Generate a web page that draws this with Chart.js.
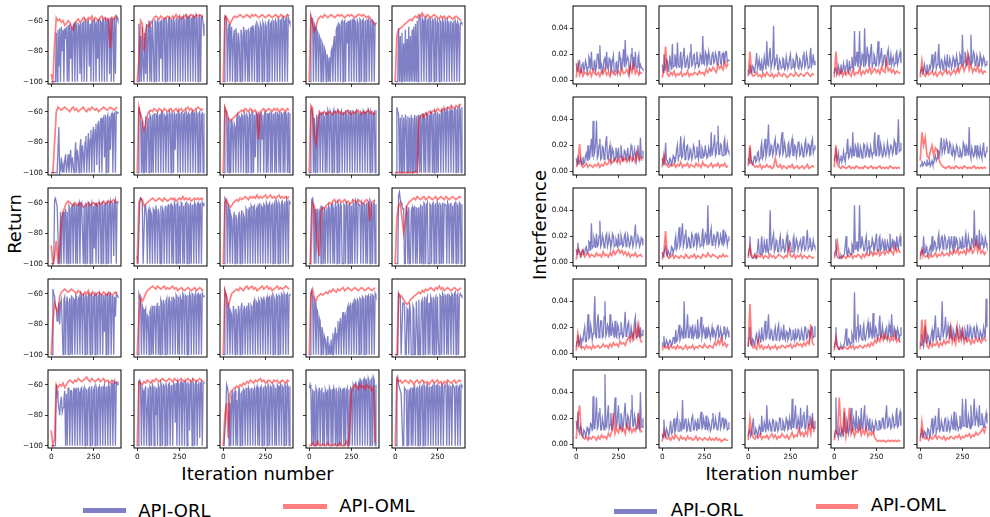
<!DOCTYPE html>
<html><head><meta charset="utf-8">
<script src="https://cdn.jsdelivr.net/npm/chart.js@4.4.0/dist/chart.umd.min.js"></script>
<style>
html,body{margin:0;padding:0;background:#fff;}
body{width:990px;height:517px;position:relative;overflow:hidden;font-family:"DejaVu Sans",sans-serif;color:#000;}
canvas{position:absolute;}
.t{position:absolute;font-size:18px;line-height:18px;white-space:nowrap;color:#000;}
.sw{position:absolute;height:5px;}
</style></head><body>
<div class="t" style="left:15px;top:224px;transform:translate(-50%,-50%) rotate(-90deg);">Return</div>
<div class="t" style="left:540px;top:225px;transform:translate(-50%,-50%) rotate(-90deg);">Interference</div>
<div class="t" style="left:257.5px;top:465px;transform:translateX(-50%);">Iteration number</div>
<div class="t" style="left:781.7px;top:465px;transform:translateX(-50%);">Iteration number</div>
<div class="sw" style="left:82.7px;top:507.8px;width:43.3px;background:rgb(127,127,197);"></div>
<div class="t" style="left:138.3px;top:502px;">API-ORL</div>
<div class="sw" style="left:283.3px;top:503.7px;width:43.4px;background:rgb(255,127,127);"></div>
<div class="t" style="left:339.3px;top:497.2px;">API-OML</div>
<div class="sw" style="left:614.3px;top:508.5px;width:43px;background:rgb(127,127,197);"></div>
<div class="t" style="left:670.7px;top:501.2px;">API-ORL</div>
<div class="sw" style="left:815.7px;top:504px;width:42.6px;background:rgb(255,127,127);"></div>
<div class="t" style="left:870.7px;top:496.2px;">API-OML</div>
<script>
// iterations sampled for each series
const ITER_ORL = [0,5,10,15,20,25,30,35,40,45,50,55,60,65,70,75,80,85,90,95,100,105,110,115,120,125,130,135,140,145,150,155,160,165,170,175,180,185,190,195,200,205,210,215,220,225,230,235,240,245,250,255,260,265,270,275,280,285,290,295,300,305,310,315,320,325,330,335,340,345,350,355,360,365,370,375,380,385,390,395];
const ITER_OML = [0,10,20,30,40,50,60,70,80,90,100,110,120,130,140,150,160,170,180,190,200,210,220,230,240,250,260,270,280,290,300,310,320,330,340,350,360,370,380,390];
const RET_TICKS = [-100,-80,-60];
const INT_TICKS = [0,0.02,0.04];
const X_TICKS = [0,250];

// ---- Return (left grid): ret_orl_rc (API-ORL), ret_oml_rc (API-OML)
const ret_orl_11 = [-100,-100,-100,-100,-100,-100,-68,-100,-66,-90,-65,-100,-64,-80,-66,-100,-65,-72,-64,-100,-63,-100,-62,-85,-64,-100,-63,-62,-100,-61,-64,-100,-62,-63,-95,-61,-100,-62,-61,-100,-60,-62,-100,-61,-60,-90,-62,-100,-60,-61,-100,-59,-62,-100,-60,-85,-59,-100,-60,-61,-100,-59,-60,-100,-58,-61,-100,-59,-60,-95,-58,-100,-59,-60,-100,-58,-95,-57,-58,-60];
const ret_oml_11 = [-95,-100,-75,-58,-60,-59,-61,-60,-63,-62,-60,-61,-64,-66,-62,-60,-59,-61,-60,-58,-59,-60,-58,-59,-57,-60,-58,-59,-60,-58,-57,-59,-58,-60,-59,-78,-58,-59,-57,-58];
const ret_orl_12 = [-100,-100,-62,-100,-70,-100,-64,-90,-100,-68,-95,-62,-100,-66,-60,-100,-64,-100,-60,-75,-100,-60,-61,-100,-59,-62,-100,-60,-85,-59,-100,-60,-59,-100,-58,-62,-100,-59,-58,-100,-60,-59,-100,-58,-62,-100,-59,-58,-100,-60,-58,-100,-59,-57,-100,-58,-60,-100,-57,-58,-100,-58,-57,-100,-59,-58,-100,-57,-58,-100,-57,-59,-100,-58,-57,-100,-58,-57,-62,-70];
const ret_oml_12 = [-100,-85,-60,-62,-80,-66,-63,-64,-62,-60,-58,-57,-58,-59,-57,-58,-59,-58,-57,-58,-59,-57,-58,-56,-58,-57,-59,-58,-57,-56,-58,-57,-56,-57,-58,-56,-57,-56,-57,-58];
const ret_orl_13 = [-100,-100,-58,-57,-60,-100,-66,-62,-100,-70,-64,-100,-72,-66,-100,-65,-70,-100,-68,-75,-100,-66,-70,-100,-64,-68,-100,-66,-80,-100,-65,-100,-68,-64,-100,-63,-66,-100,-64,-62,-100,-63,-65,-100,-62,-64,-100,-61,-63,-100,-62,-64,-100,-61,-60,-100,-62,-61,-100,-60,-61,-100,-60,-62,-100,-59,-61,-100,-60,-59,-100,-58,-60,-100,-59,-58,-100,-58,-60,-62];
const ret_oml_13 = [-100,-57,-58,-60,-62,-60,-58,-57,-58,-57,-56,-57,-58,-57,-56,-57,-58,-56,-57,-56,-57,-58,-57,-56,-57,-58,-57,-56,-57,-58,-57,-56,-57,-58,-56,-57,-58,-57,-56,-57];
const ret_orl_14 = [-100,-100,-58,-60,-59,-100,-62,-64,-100,-66,-68,-100,-70,-72,-100,-74,-76,-100,-78,-80,-100,-82,-85,-100,-84,-100,-80,-78,-100,-74,-70,-100,-66,-64,-100,-62,-63,-100,-61,-60,-100,-61,-60,-100,-61,-75,-60,-100,-61,-60,-100,-60,-59,-100,-60,-61,-100,-60,-62,-100,-59,-60,-100,-60,-59,-100,-61,-60,-100,-60,-59,-100,-60,-61,-100,-60,-61,-100,-62,-61];
const ret_oml_14 = [-100,-57,-62,-67,-64,-60,-58,-57,-58,-56,-57,-58,-57,-56,-57,-58,-57,-56,-57,-56,-57,-58,-57,-56,-57,-56,-57,-58,-57,-56,-56,-57,-56,-57,-58,-57,-58,-60,-61,-63];
const ret_orl_15 = [-100,-100,-100,-100,-65,-100,-70,-100,-68,-100,-75,-100,-66,-100,-72,-100,-64,-100,-70,-100,-66,-100,-64,-100,-62,-100,-60,-100,-58,-57,-60,-100,-58,-60,-100,-59,-58,-100,-60,-59,-100,-58,-61,-100,-59,-60,-100,-58,-61,-100,-60,-62,-100,-60,-61,-100,-58,-62,-100,-60,-61,-100,-60,-62,-100,-61,-60,-100,-62,-61,-100,-60,-62,-100,-61,-63,-100,-62,-61,-62];
const ret_oml_15 = [-100,-70,-66,-65,-64,-63,-62,-61,-60,-59,-60,-58,-57,-58,-56,-57,-55,-57,-58,-56,-57,-58,-57,-56,-57,-58,-59,-57,-58,-57,-59,-58,-57,-58,-59,-58,-57,-58,-59,-60];
const ret_orl_21 = [-100,-100,-100,-100,-100,-100,-100,-100,-100,-70,-100,-98,-90,-100,-95,-100,-92,-88,-100,-95,-88,-100,-92,-85,-100,-90,-95,-100,-88,-80,-100,-85,-90,-100,-84,-78,-100,-82,-88,-100,-80,-76,-100,-85,-74,-100,-78,-72,-100,-76,-70,-100,-72,-68,-95,-70,-66,-100,-68,-64,-100,-66,-64,-90,-62,-100,-64,-62,-100,-63,-85,-62,-61,-100,-62,-61,-100,-60,-61,-60];
const ret_oml_21 = [-100,-100,-80,-60,-57,-58,-59,-58,-57,-58,-59,-60,-58,-57,-59,-58,-60,-59,-58,-57,-59,-60,-58,-59,-57,-58,-59,-58,-60,-59,-58,-57,-58,-59,-58,-57,-58,-59,-58,-57];
const ret_orl_22 = [-100,-100,-57,-60,-62,-100,-66,-100,-70,-100,-63,-100,-70,-64,-100,-62,-64,-100,-62,-100,-61,-64,-100,-62,-61,-100,-63,-62,-100,-60,-61,-100,-62,-63,-100,-61,-62,-100,-60,-62,-100,-61,-62,-100,-60,-85,-62,-61,-100,-60,-62,-100,-61,-60,-100,-62,-61,-100,-60,-62,-100,-61,-62,-100,-61,-60,-100,-62,-61,-100,-60,-62,-100,-61,-60,-100,-62,-61,-100,-61];
const ret_oml_22 = [-100,-57,-62,-65,-72,-68,-62,-60,-59,-60,-58,-59,-60,-58,-59,-60,-58,-59,-60,-59,-58,-60,-59,-58,-60,-59,-58,-60,-59,-58,-57,-59,-58,-60,-59,-58,-57,-58,-59,-58];
const ret_orl_23 = [-100,-100,-58,-60,-60,-100,-64,-100,-66,-100,-65,-70,-100,-68,-70,-100,-64,-62,-100,-63,-64,-100,-62,-63,-100,-61,-63,-100,-62,-64,-100,-61,-62,-100,-60,-61,-100,-62,-90,-61,-62,-100,-61,-62,-100,-60,-78,-62,-100,-61,-60,-100,-61,-100,-62,-61,-100,-60,-100,-62,-61,-100,-60,-100,-61,-62,-100,-60,-100,-61,-62,-100,-60,-100,-61,-62,-100,-60,-100,-61];
const ret_oml_23 = [-100,-57,-60,-64,-66,-65,-64,-63,-62,-61,-60,-59,-60,-58,-59,-60,-58,-59,-60,-59,-61,-78,-60,-59,-58,-60,-59,-58,-59,-60,-58,-59,-58,-60,-59,-58,-59,-60,-58,-59];
const ret_orl_24 = [-100,-100,-60,-58,-62,-100,-64,-100,-70,-62,-100,-64,-62,-100,-61,-60,-100,-62,-64,-100,-60,-100,-59,-61,-100,-60,-62,-100,-61,-59,-100,-60,-61,-100,-59,-60,-100,-62,-60,-100,-61,-60,-100,-59,-62,-100,-60,-61,-100,-59,-62,-100,-60,-61,-100,-60,-59,-100,-61,-62,-100,-60,-61,-100,-59,-60,-100,-61,-60,-100,-59,-61,-100,-60,-62,-100,-61,-60,-100,-59];
const ret_oml_24 = [-100,-56,-58,-75,-81,-70,-60,-62,-61,-60,-62,-61,-60,-61,-62,-60,-61,-59,-61,-60,-62,-61,-60,-59,-61,-62,-60,-61,-60,-59,-61,-62,-60,-61,-60,-59,-61,-60,-62,-61];
const ret_orl_25 = [-100,-100,-57,-60,-62,-100,-64,-100,-62,-100,-64,-100,-62,-66,-100,-63,-100,-64,-100,-62,-100,-64,-100,-62,-100,-63,-100,-62,-90,-100,-62,-100,-64,-61,-100,-64,-100,-61,-62,-100,-62,-100,-60,-61,-100,-61,-100,-60,-62,-100,-60,-100,-62,-61,-100,-59,-60,-100,-58,-60,-100,-59,-58,-100,-60,-59,-100,-58,-60,-100,-59,-58,-100,-59,-58,-100,-57,-59,-100,-57];
const ret_oml_25 = [-100,-100,-100,-100,-100,-100,-100,-100,-100,-100,-100,-100,-99,-100,-65,-63,-62,-64,-61,-62,-60,-61,-60,-59,-60,-58,-59,-60,-58,-59,-58,-57,-58,-56,-57,-58,-56,-57,-56,-55];
const ret_orl_31 = [-100,-100,-100,-100,-58,-57,-60,-62,-62,-100,-100,-66,-100,-70,-66,-100,-70,-64,-100,-66,-100,-62,-64,-100,-63,-62,-100,-61,-62,-100,-61,-100,-62,-60,-100,-61,-60,-80,-100,-62,-100,-61,-62,-100,-60,-61,-100,-62,-60,-100,-62,-90,-60,-100,-61,-62,-100,-60,-62,-100,-61,-60,-100,-62,-61,-100,-60,-59,-100,-61,-59,-100,-60,-61,-95,-60,-58,-100,-60,-59];
const ret_oml_31 = [-88,-100,-95,-85,-100,-90,-72,-66,-63,-60,-59,-60,-61,-62,-60,-61,-62,-60,-61,-63,-62,-61,-60,-62,-61,-60,-61,-62,-60,-61,-60,-59,-61,-60,-59,-60,-59,-58,-60,-59];
const ret_orl_32 = [-95,-100,-100,-60,-57,-58,-60,-100,-100,-62,-62,-70,-100,-66,-64,-100,-66,-68,-100,-64,-65,-100,-62,-66,-100,-64,-68,-100,-62,-100,-64,-66,-100,-63,-62,-100,-64,-61,-100,-62,-61,-100,-62,-100,-60,-62,-100,-61,-60,-100,-62,-100,-60,-61,-100,-62,-100,-61,-60,-100,-61,-62,-100,-60,-100,-62,-61,-100,-60,-62,-100,-61,-60,-100,-62,-61,-100,-60,-62,-60];
const ret_oml_32 = [-100,-60,-57,-58,-62,-61,-60,-59,-58,-57,-58,-59,-58,-57,-58,-59,-57,-58,-59,-58,-57,-58,-57,-59,-58,-57,-58,-56,-58,-57,-58,-57,-59,-58,-57,-58,-57,-58,-57,-58];
const ret_orl_33 = [-100,-100,-57,-58,-60,-100,-62,-64,-100,-68,-70,-100,-72,-66,-100,-68,-72,-100,-70,-66,-100,-70,-65,-100,-68,-70,-100,-64,-66,-100,-66,-63,-100,-62,-64,-100,-63,-62,-100,-65,-63,-100,-62,-61,-100,-62,-63,-100,-61,-62,-100,-60,-62,-100,-61,-60,-100,-62,-61,-100,-62,-60,-100,-59,-61,-100,-60,-62,-100,-60,-59,-100,-61,-59,-100,-58,-60,-100,-59,-60];
const ret_oml_33 = [-100,-60,-58,-61,-63,-62,-60,-59,-58,-59,-57,-58,-57,-56,-57,-58,-56,-57,-56,-57,-55,-57,-56,-57,-56,-55,-57,-56,-55,-57,-56,-57,-56,-55,-57,-56,-57,-56,-57,-56];
const ret_orl_34 = [-100,-100,-100,-58,-57,-62,-100,-64,-100,-70,-64,-100,-66,-64,-100,-62,-65,-100,-63,-100,-65,-63,-100,-62,-64,-100,-62,-61,-100,-63,-100,-61,-63,-100,-60,-62,-100,-61,-62,-100,-100,-61,-62,-100,-60,-61,-100,-62,-61,-100,-62,-100,-60,-62,-100,-59,-61,-100,-60,-62,-61,-100,-60,-62,-100,-61,-62,-100,-60,-100,-61,-59,-100,-60,-62,-100,-61,-60,-100,-61];
const ret_oml_34 = [-100,-100,-60,-62,-75,-88,-95,-65,-63,-64,-62,-61,-60,-61,-59,-58,-60,-59,-58,-60,-59,-58,-60,-59,-61,-60,-58,-59,-60,-58,-59,-60,-61,-59,-58,-60,-72,-60,-59,-58];
const ret_orl_35 = [-100,-100,-100,-100,-55,-53,-58,-60,-62,-64,-64,-100,-100,-62,-66,-100,-63,-100,-100,-65,-63,-100,-65,-62,-100,-63,-100,-64,-63,-100,-61,-100,-62,-100,-60,-61,-100,-62,-60,-100,-100,-61,-62,-100,-61,-60,-100,-62,-61,-100,-60,-62,-100,-61,-62,-100,-60,-100,-61,-62,-61,-100,-60,-62,-100,-61,-60,-100,-62,-100,-61,-60,-100,-61,-62,-100,-60,-61,-100,-61];
const ret_oml_35 = [-100,-70,-62,-60,-70,-80,-72,-62,-60,-59,-58,-57,-58,-56,-57,-58,-57,-56,-58,-57,-56,-57,-58,-57,-56,-58,-57,-56,-57,-58,-56,-57,-58,-57,-56,-57,-58,-57,-56,-57];
const ret_orl_41 = [-100,-100,-57,-60,-62,-68,-70,-78,-75,-66,-80,-66,-64,-80,-100,-64,-62,-100,-66,-62,-100,-66,-63,-100,-61,-100,-63,-64,-100,-61,-62,-100,-64,-62,-100,-60,-62,-100,-60,-63,-100,-61,-62,-100,-60,-61,-100,-62,-60,-100,-62,-61,-100,-60,-61,-100,-62,-60,-100,-61,-62,-100,-61,-85,-60,-100,-61,-60,-100,-61,-60,-100,-62,-61,-100,-62,-75,-60,-61,-62];
const ret_oml_41 = [-100,-80,-66,-70,-72,-62,-59,-58,-57,-58,-59,-58,-57,-58,-59,-60,-58,-59,-60,-61,-59,-60,-58,-61,-60,-59,-61,-60,-59,-60,-61,-59,-60,-61,-59,-60,-61,-60,-59,-60];
const ret_orl_42 = [-100,-100,-60,-62,-64,-100,-68,-70,-100,-72,-70,-100,-74,-75,-100,-72,-70,-100,-68,-100,-68,-72,-100,-70,-66,-100,-68,-100,-64,-66,-100,-64,-68,-100,-65,-63,-100,-66,-62,-100,-65,-62,-100,-63,-64,-100,-61,-63,-100,-62,-100,-62,-64,-100,-60,-62,-100,-61,-62,-100,-61,-100,-60,-62,-100,-60,-61,-100,-62,-60,-100,-61,-60,-100,-62,-61,-100,-60,-62,-61];
const ret_oml_42 = [-100,-75,-62,-65,-63,-60,-58,-57,-56,-55,-56,-57,-55,-56,-57,-56,-55,-57,-56,-57,-56,-55,-57,-56,-58,-57,-56,-57,-58,-57,-56,-57,-58,-57,-56,-58,-57,-56,-57,-58];
const ret_orl_43 = [-100,-100,-58,-60,-62,-100,-66,-70,-100,-72,-74,-100,-68,-72,-100,-70,-74,-100,-68,-72,-100,-70,-66,-100,-72,-68,-100,-70,-68,-100,-66,-72,-100,-68,-70,-100,-66,-64,-100,-65,-66,-100,-64,-66,-100,-63,-64,-100,-62,-66,-100,-64,-62,-100,-63,-62,-100,-63,-61,-100,-62,-64,-100,-61,-62,-100,-61,-62,-100,-60,-61,-100,-60,-62,-100,-61,-60,-100,-61,-60];
const ret_oml_43 = [-100,-58,-62,-68,-64,-60,-59,-58,-57,-58,-56,-57,-58,-56,-55,-57,-56,-55,-57,-56,-58,-57,-56,-55,-57,-56,-55,-57,-56,-58,-57,-56,-55,-57,-56,-57,-56,-55,-56,-57];
const ret_orl_44 = [-100,-100,-60,-58,-62,-100,-64,-66,-100,-70,-72,-100,-76,-78,-100,-82,-85,-100,-88,-90,-100,-92,-88,-100,-95,-100,-90,-100,-86,-100,-88,-82,-100,-86,-78,-100,-80,-76,-100,-78,-72,-100,-76,-74,-100,-70,-68,-100,-70,-66,-100,-68,-66,-100,-64,-65,-100,-63,-66,-100,-63,-64,-100,-62,-63,-100,-64,-61,-100,-62,-61,-100,-62,-60,-100,-61,-62,-100,-60,-62];
const ret_oml_44 = [-100,-60,-57,-63,-65,-62,-61,-60,-61,-60,-59,-60,-58,-59,-57,-58,-59,-57,-58,-57,-56,-58,-57,-56,-57,-58,-57,-56,-57,-58,-57,-56,-57,-58,-57,-56,-57,-58,-57,-56];
const ret_orl_45 = [-100,-100,-100,-100,-60,-62,-62,-100,-100,-66,-66,-68,-100,-100,-70,-72,-100,-66,-72,-100,-100,-68,-70,-100,-100,-65,-80,-100,-64,-100,-100,-66,-64,-100,-66,-62,-100,-64,-62,-100,-66,-100,-62,-64,-100,-62,-100,-64,-62,-100,-62,-90,-100,-61,-62,-100,-60,-62,-100,-61,-62,-100,-60,-100,-61,-62,-100,-60,-61,-100,-60,-59,-100,-61,-60,-100,-62,-60,-61,-62];
const ret_oml_45 = [-100,-100,-60,-61,-62,-64,-66,-67,-66,-64,-63,-62,-61,-60,-59,-60,-58,-59,-57,-58,-57,-56,-57,-58,-56,-57,-55,-57,-56,-58,-57,-56,-57,-58,-57,-56,-57,-58,-57,-56];
const ret_orl_51 = [-100,-100,-100,-100,-100,-100,-60,-64,-70,-75,-80,-72,-68,-78,-75,-70,-64,-100,-66,-100,-62,-66,-100,-64,-64,-100,-66,-62,-100,-64,-63,-100,-62,-65,-100,-63,-62,-100,-64,-62,-100,-63,-64,-100,-63,-62,-100,-64,-61,-100,-64,-62,-100,-61,-63,-100,-62,-61,-100,-62,-61,-100,-62,-60,-100,-62,-61,-100,-60,-62,-100,-60,-59,-100,-60,-58,-100,-59,-60,-58];
const ret_oml_51 = [-90,-100,-95,-60,-62,-60,-61,-59,-62,-60,-58,-57,-58,-59,-57,-58,-56,-57,-58,-57,-56,-55,-57,-58,-56,-57,-58,-57,-56,-58,-57,-56,-58,-57,-58,-59,-57,-58,-59,-58];
const ret_orl_52 = [-100,-100,-58,-57,-60,-100,-62,-64,-100,-64,-61,-100,-75,-62,-100,-61,-62,-100,-60,-62,-100,-61,-80,-62,-100,-60,-62,-100,-59,-61,-100,-60,-61,-100,-59,-62,-100,-60,-59,-100,-61,-60,-100,-59,-60,-85,-59,-100,-58,-60,-100,-59,-58,-100,-60,-59,-100,-58,-60,-100,-59,-60,-90,-58,-59,-100,-58,-60,-100,-59,-58,-100,-60,-58,-95,-59,-58,-100,-59,-58];
const ret_oml_52 = [-100,-58,-59,-60,-58,-59,-57,-58,-59,-57,-58,-56,-57,-58,-57,-56,-57,-58,-57,-56,-57,-58,-56,-57,-58,-57,-56,-57,-58,-57,-56,-57,-58,-56,-57,-58,-57,-56,-57,-58];
const ret_orl_53 = [-100,-100,-100,-80,-60,-62,-66,-100,-72,-100,-68,-64,-100,-66,-64,-100,-70,-100,-65,-62,-100,-66,-65,-100,-63,-64,-100,-62,-66,-100,-62,-64,-100,-63,-62,-100,-64,-62,-100,-63,-61,-100,-62,-100,-62,-61,-100,-63,-62,-100,-61,-62,-100,-60,-62,-100,-61,-62,-100,-60,-61,-100,-62,-100,-60,-61,-100,-62,-60,-100,-61,-62,-100,-60,-61,-100,-60,-62,-100,-61];
const ret_oml_53 = [-100,-80,-72,-95,-66,-64,-63,-62,-61,-62,-60,-61,-59,-60,-58,-59,-57,-58,-59,-57,-58,-57,-56,-58,-57,-59,-58,-57,-58,-59,-57,-58,-57,-59,-58,-57,-58,-59,-57,-58];
const ret_orl_54 = [-62,-60,-65,-100,-63,-100,-64,-100,-62,-64,-100,-66,-62,-100,-64,-62,-100,-65,-100,-63,-65,-100,-63,-100,-62,-64,-100,-63,-100,-62,-64,-100,-62,-100,-65,-63,-100,-62,-100,-64,-63,-100,-62,-100,-64,-62,-100,-63,-100,-62,-63,-100,-60,-62,-100,-58,-62,-100,-60,-58,-100,-57,-58,-100,-57,-56,-100,-58,-57,-100,-56,-58,-100,-57,-56,-100,-55,-57,-100,-60];
const ret_oml_54 = [-100,-100,-98,-100,-100,-97,-100,-100,-99,-100,-100,-98,-100,-100,-100,-99,-100,-100,-98,-100,-100,-100,-97,-100,-90,-65,-62,-60,-61,-63,-60,-62,-61,-63,-60,-62,-61,-64,-62,-98];
const ret_orl_55 = [-100,-100,-57,-55,-60,-62,-64,-66,-66,-100,-100,-62,-63,-64,-100,-63,-100,-64,-63,-100,-62,-100,-62,-61,-100,-63,-62,-100,-63,-61,-100,-62,-61,-100,-60,-62,-100,-61,-60,-100,-62,-61,-100,-62,-61,-100,-60,-62,-100,-61,-60,-100,-61,-62,-100,-60,-61,-100,-62,-60,-61,-100,-60,-62,-100,-61,-62,-100,-60,-61,-62,-100,-61,-60,-100,-62,-61,-100,-60,-61];
const ret_oml_55 = [-100,-56,-58,-57,-59,-58,-57,-58,-59,-57,-58,-60,-58,-57,-59,-58,-57,-58,-59,-58,-60,-58,-57,-59,-58,-57,-59,-58,-60,-58,-59,-57,-58,-59,-58,-57,-59,-58,-57,-58];

// ---- Interference (right grid): int_orl_rc (API-ORL), int_oml_rc (API-OML)
const int_orl_11 = [0.013,0.007,0.008,0.014,0.015,0.006,0.006,0.012,0.014,0.007,0.009,0.015,0.012,0.006,0.01,0.018,0.016,0.008,0.022,0.009,0.008,0.014,0.015,0.007,0.01,0.02,0.02,0.009,0.027,0.01,0.012,0.006,0.009,0.016,0.018,0.008,0.022,0.01,0.008,0.017,0.016,0.007,0.01,0.015,0.019,0.006,0.007,0.013,0.014,0.006,0.011,0.022,0.017,0.008,0.009,0.015,0.024,0.01,0.031,0.012,0.012,0.018,0.015,0.005,0.009,0.02,0.025,0.008,0.018,0.01,0.022,0.009,0.01,0.017,0.02,0.008,0.012,0.01,0.009,0.008];
const int_oml_11 = [0.002,0.012,0.004,0.008,0.003,0.006,0.005,0.004,0.007,0.003,0.008,0.005,0.004,0.006,0.003,0.007,0.005,0.009,0.004,0.006,0.003,0.008,0.005,0.004,0.006,0.007,0.004,0.009,0.005,0.006,0.008,0.004,0.011,0.006,0.012,0.005,0.008,0.004,0.006,0.005];
const int_orl_12 = [0.012,0.006,0.02,0.009,0.008,0.016,0.015,0.007,0.01,0.019,0.012,0.008,0.028,0.01,0.011,0.02,0.016,0.009,0.029,0.012,0.01,0.017,0.022,0.009,0.012,0.02,0.025,0.01,0.011,0.016,0.018,0.009,0.01,0.021,0.028,0.011,0.012,0.019,0.02,0.01,0.013,0.022,0.016,0.01,0.011,0.02,0.018,0.012,0.034,0.013,0.012,0.022,0.02,0.011,0.013,0.022,0.018,0.012,0.012,0.02,0.022,0.013,0.014,0.021,0.019,0.012,0.013,0.022,0.022,0.013,0.012,0.02,0.021,0.013,0.014,0.022,0.022,0.014,0.015,0.016];
const int_oml_12 = [0.002,0.008,0.026,0.005,0.003,0.006,0.004,0.007,0.003,0.005,0.004,0.006,0.003,0.005,0.004,0.007,0.003,0.005,0.004,0.006,0.005,0.004,0.007,0.005,0.006,0.004,0.008,0.006,0.009,0.007,0.01,0.008,0.006,0.012,0.009,0.011,0.008,0.014,0.01,0.013];
const int_orl_13 = [0.008,0.005,0.012,0.007,0.006,0.011,0.01,0.006,0.009,0.014,0.021,0.009,0.012,0.016,0.008,0.012,0.015,0.007,0.01,0.018,0.013,0.008,0.03,0.012,0.011,0.02,0.025,0.009,0.009,0.016,0.042,0.01,0.012,0.017,0.02,0.008,0.008,0.016,0.014,0.009,0.01,0.017,0.016,0.008,0.009,0.018,0.013,0.009,0.011,0.017,0.02,0.009,0.01,0.016,0.015,0.009,0.012,0.02,0.018,0.01,0.009,0.016,0.014,0.009,0.011,0.019,0.022,0.01,0.012,0.02,0.016,0.009,0.01,0.018,0.025,0.011,0.014,0.02,0.012,0.015];
const int_oml_13 = [0.003,0.022,0.005,0.003,0.004,0.006,0.003,0.004,0.002,0.005,0.003,0.006,0.004,0.003,0.005,0.002,0.004,0.003,0.006,0.004,0.003,0.005,0.004,0.002,0.003,0.005,0.004,0.003,0.006,0.004,0.003,0.005,0.004,0.003,0.005,0.006,0.004,0.003,0.005,0.004];
const int_orl_14 = [0.005,0.009,0.01,0.004,0.006,0.011,0.008,0.005,0.012,0.006,0.007,0.013,0.009,0.006,0.011,0.016,0.008,0.006,0.015,0.008,0.01,0.018,0.012,0.009,0.038,0.011,0.015,0.022,0.01,0.014,0.038,0.01,0.012,0.02,0.018,0.01,0.04,0.012,0.014,0.026,0.02,0.011,0.012,0.022,0.028,0.01,0.013,0.02,0.018,0.011,0.011,0.022,0.03,0.012,0.014,0.02,0.025,0.011,0.012,0.019,0.02,0.011,0.013,0.021,0.024,0.012,0.015,0.02,0.012,0.016,0.018,0.011,0.013,0.02,0.022,0.012,0.015,0.019,0.022,0.013];
const int_oml_14 = [0.002,0.022,0.006,0.004,0.008,0.003,0.006,0.004,0.007,0.005,0.003,0.008,0.004,0.006,0.005,0.009,0.004,0.007,0.005,0.008,0.006,0.01,0.005,0.007,0.009,0.006,0.008,0.005,0.01,0.007,0.006,0.015,0.007,0.009,0.006,0.008,0.005,0.007,0.006,0.005];
const int_orl_15 = [0.005,0.008,0.01,0.005,0.007,0.012,0.008,0.005,0.012,0.007,0.006,0.011,0.009,0.013,0.02,0.008,0.01,0.017,0.022,0.009,0.012,0.018,0.028,0.01,0.009,0.016,0.015,0.008,0.011,0.017,0.013,0.009,0.02,0.011,0.01,0.017,0.014,0.009,0.012,0.018,0.016,0.01,0.011,0.019,0.015,0.009,0.013,0.02,0.018,0.011,0.035,0.012,0.014,0.022,0.016,0.011,0.012,0.02,0.018,0.012,0.035,0.013,0.014,0.022,0.02,0.011,0.012,0.019,0.016,0.011,0.011,0.02,0.017,0.011,0.013,0.018,0.016,0.011,0.012,0.015];
const int_oml_15 = [0.002,0.015,0.005,0.003,0.006,0.004,0.005,0.007,0.004,0.006,0.003,0.005,0.007,0.004,0.006,0.008,0.005,0.007,0.004,0.006,0.008,0.005,0.009,0.006,0.01,0.012,0.007,0.011,0.02,0.008,0.012,0.006,0.009,0.007,0.011,0.006,0.008,0.005,0.007,0.006];
const int_orl_21 = [0.01,0.005,0.012,0.007,0.006,0.01,0.008,0.005,0.011,0.006,0.007,0.012,0.014,0.008,0.02,0.009,0.01,0.018,0.025,0.011,0.039,0.012,0.015,0.022,0.039,0.01,0.012,0.02,0.025,0.009,0.01,0.019,0.018,0.009,0.012,0.022,0.027,0.01,0.009,0.016,0.02,0.008,0.011,0.017,0.015,0.008,0.01,0.018,0.014,0.009,0.018,0.01,0.011,0.02,0.013,0.008,0.009,0.016,0.015,0.009,0.012,0.018,0.01,0.008,0.014,0.02,0.018,0.009,0.011,0.017,0.013,0.008,0.015,0.02,0.012,0.009,0.026,0.011,0.01,0.016];
const int_oml_21 = [0.003,0.006,0.021,0.005,0.003,0.004,0.006,0.003,0.005,0.004,0.003,0.005,0.004,0.006,0.003,0.005,0.004,0.007,0.005,0.006,0.009,0.006,0.008,0.01,0.007,0.009,0.006,0.011,0.008,0.01,0.007,0.009,0.012,0.008,0.01,0.007,0.015,0.009,0.011,0.008];
const int_orl_22 = [0.01,0.005,0.012,0.008,0.022,0.009,0.008,0.005,0.006,0.01,0.009,0.005,0.007,0.012,0.011,0.006,0.01,0.016,0.02,0.009,0.012,0.018,0.027,0.01,0.011,0.02,0.024,0.009,0.013,0.019,0.02,0.009,0.01,0.017,0.015,0.009,0.012,0.02,0.018,0.01,0.011,0.019,0.013,0.009,0.024,0.012,0.01,0.018,0.016,0.011,0.012,0.02,0.014,0.01,0.011,0.018,0.015,0.011,0.03,0.012,0.012,0.02,0.028,0.012,0.014,0.022,0.035,0.013,0.013,0.021,0.02,0.012,0.012,0.022,0.025,0.013,0.014,0.021,0.016,0.014];
const int_oml_22 = [0.003,0.013,0.006,0.004,0.003,0.005,0.004,0.006,0.003,0.005,0.004,0.007,0.003,0.005,0.004,0.006,0.003,0.005,0.004,0.003,0.006,0.004,0.005,0.003,0.007,0.004,0.005,0.003,0.004,0.006,0.003,0.005,0.004,0.006,0.003,0.005,0.004,0.006,0.003,0.004];
const int_orl_23 = [0.01,0.006,0.018,0.008,0.008,0.005,0.006,0.011,0.012,0.007,0.008,0.014,0.015,0.008,0.01,0.018,0.022,0.01,0.012,0.02,0.025,0.011,0.014,0.022,0.036,0.012,0.013,0.02,0.018,0.012,0.015,0.022,0.025,0.012,0.012,0.021,0.02,0.012,0.014,0.024,0.03,0.013,0.015,0.022,0.018,0.011,0.012,0.02,0.022,0.012,0.014,0.021,0.025,0.012,0.012,0.02,0.019,0.011,0.015,0.022,0.023,0.012,0.013,0.02,0.018,0.011,0.012,0.021,0.024,0.013,0.015,0.021,0.02,0.012,0.013,0.022,0.025,0.014,0.017,0.02];
const int_oml_23 = [0.004,0.02,0.006,0.005,0.003,0.004,0.003,0.005,0.002,0.004,0.003,0.005,0.003,0.004,0.002,0.003,0.01,0.004,0.003,0.005,0.002,0.004,0.003,0.002,0.004,0.003,0.005,0.002,0.003,0.004,0.002,0.003,0.004,0.002,0.003,0.005,0.002,0.003,0.004,0.003];
const int_orl_24 = [0.008,0.012,0.018,0.008,0.01,0.014,0.006,0.009,0.012,0.007,0.009,0.015,0.01,0.007,0.014,0.019,0.025,0.01,0.011,0.018,0.016,0.01,0.03,0.012,0.012,0.02,0.018,0.011,0.022,0.012,0.011,0.019,0.016,0.01,0.013,0.021,0.02,0.011,0.012,0.02,0.017,0.011,0.011,0.019,0.015,0.011,0.014,0.022,0.03,0.012,0.012,0.02,0.028,0.012,0.013,0.021,0.017,0.011,0.012,0.02,0.02,0.012,0.014,0.022,0.018,0.012,0.012,0.02,0.019,0.013,0.015,0.024,0.022,0.013,0.013,0.021,0.04,0.015,0.016,0.022];
const int_oml_24 = [0.003,0.02,0.005,0.003,0.002,0.004,0.003,0.002,0.003,0.004,0.002,0.003,0.002,0.004,0.003,0.002,0.003,0.002,0.004,0.003,0.002,0.003,0.004,0.002,0.003,0.002,0.003,0.004,0.002,0.003,0.002,0.003,0.002,0.004,0.003,0.002,0.003,0.002,0.003,0.002];
const int_orl_25 = [0.003,0.005,0.008,0.004,0.005,0.007,0.006,0.004,0.009,0.005,0.005,0.008,0.004,0.006,0.008,0.005,0.006,0.01,0.012,0.008,0.01,0.016,0.015,0.012,0.02,0.026,0.014,0.018,0.025,0.015,0.018,0.024,0.022,0.014,0.015,0.022,0.02,0.013,0.012,0.019,0.016,0.011,0.014,0.02,0.018,0.012,0.011,0.017,0.015,0.011,0.013,0.022,0.02,0.012,0.012,0.019,0.016,0.012,0.034,0.013,0.01,0.018,0.015,0.011,0.012,0.02,0.014,0.011,0.02,0.013,0.011,0.018,0.013,0.01,0.017,0.022,0.012,0.011,0.015,0.019];
const int_oml_25 = [0.008,0.03,0.02,0.026,0.012,0.01,0.015,0.02,0.012,0.018,0.016,0.009,0.006,0.004,0.003,0.002,0.003,0.004,0.002,0.003,0.002,0.004,0.003,0.002,0.003,0.002,0.004,0.003,0.002,0.003,0.002,0.003,0.004,0.002,0.003,0.002,0.003,0.002,0.003,0.002];
const int_orl_31 = [0.01,0.006,0.015,0.009,0.008,0.004,0.005,0.009,0.01,0.006,0.007,0.011,0.012,0.007,0.009,0.016,0.015,0.009,0.03,0.011,0.012,0.019,0.016,0.011,0.022,0.012,0.013,0.02,0.032,0.012,0.014,0.021,0.018,0.011,0.013,0.02,0.022,0.012,0.015,0.021,0.017,0.011,0.014,0.022,0.02,0.012,0.013,0.018,0.016,0.011,0.022,0.013,0.014,0.021,0.018,0.012,0.013,0.02,0.022,0.012,0.015,0.021,0.017,0.012,0.014,0.02,0.019,0.012,0.015,0.021,0.029,0.013,0.016,0.02,0.018,0.012,0.014,0.019,0.018,0.013];
const int_oml_31 = [0.002,0.01,0.008,0.005,0.009,0.004,0.006,0.007,0.004,0.006,0.005,0.004,0.007,0.005,0.006,0.004,0.008,0.005,0.006,0.004,0.007,0.005,0.009,0.006,0.008,0.01,0.007,0.009,0.006,0.008,0.005,0.007,0.004,0.006,0.005,0.007,0.004,0.005,0.006,0.004];
const int_orl_32 = [0.008,0.004,0.006,0.01,0.012,0.006,0.005,0.009,0.009,0.005,0.007,0.012,0.011,0.007,0.01,0.016,0.02,0.01,0.012,0.019,0.027,0.012,0.014,0.022,0.03,0.012,0.015,0.021,0.025,0.011,0.012,0.019,0.018,0.011,0.014,0.022,0.02,0.012,0.013,0.021,0.022,0.012,0.015,0.021,0.018,0.012,0.013,0.02,0.026,0.013,0.016,0.022,0.02,0.013,0.044,0.014,0.015,0.022,0.026,0.013,0.014,0.021,0.02,0.013,0.017,0.023,0.022,0.013,0.015,0.021,0.018,0.013,0.025,0.014,0.016,0.022,0.02,0.013,0.017,0.02];
const int_oml_32 = [0.002,0.008,0.024,0.005,0.003,0.004,0.006,0.003,0.005,0.004,0.003,0.005,0.004,0.003,0.006,0.004,0.003,0.005,0.004,0.006,0.003,0.005,0.004,0.003,0.006,0.005,0.004,0.007,0.005,0.004,0.006,0.005,0.004,0.003,0.005,0.004,0.006,0.004,0.005,0.004];
const int_orl_33 = [0.005,0.01,0.02,0.006,0.004,0.003,0.003,0.004,0.005,0.003,0.004,0.01,0.018,0.007,0.006,0.012,0.02,0.007,0.008,0.016,0.012,0.007,0.018,0.009,0.007,0.015,0.04,0.009,0.009,0.018,0.022,0.008,0.01,0.017,0.015,0.008,0.008,0.016,0.02,0.009,0.011,0.018,0.014,0.008,0.009,0.017,0.021,0.009,0.01,0.016,0.015,0.008,0.008,0.017,0.02,0.009,0.012,0.018,0.016,0.009,0.009,0.015,0.017,0.009,0.011,0.02,0.014,0.009,0.01,0.018,0.025,0.01,0.012,0.019,0.015,0.009,0.01,0.017,0.013,0.011];
const int_oml_33 = [0.003,0.012,0.005,0.004,0.006,0.003,0.005,0.004,0.006,0.003,0.005,0.004,0.003,0.006,0.004,0.005,0.003,0.004,0.006,0.005,0.004,0.003,0.005,0.004,0.012,0.005,0.004,0.006,0.003,0.005,0.004,0.006,0.003,0.005,0.004,0.003,0.005,0.004,0.003,0.004];
const int_orl_34 = [0.005,0.008,0.018,0.005,0.004,0.003,0.003,0.004,0.005,0.003,0.004,0.005,0.006,0.012,0.02,0.006,0.005,0.01,0.008,0.006,0.006,0.014,0.012,0.007,0.044,0.01,0.01,0.016,0.008,0.012,0.044,0.011,0.012,0.02,0.02,0.009,0.009,0.016,0.02,0.008,0.011,0.017,0.008,0.012,0.012,0.018,0.015,0.008,0.01,0.017,0.022,0.009,0.009,0.018,0.02,0.009,0.011,0.017,0.015,0.009,0.018,0.01,0.01,0.016,0.013,0.009,0.022,0.01,0.012,0.018,0.01,0.016,0.015,0.009,0.02,0.012,0.011,0.017,0.02,0.012];
const int_oml_34 = [0.003,0.006,0.015,0.004,0.003,0.005,0.004,0.003,0.005,0.004,0.006,0.003,0.005,0.004,0.006,0.005,0.003,0.006,0.004,0.007,0.005,0.006,0.008,0.005,0.007,0.006,0.009,0.005,0.007,0.008,0.006,0.009,0.007,0.01,0.008,0.006,0.012,0.008,0.01,0.007];
const int_orl_35 = [0.005,0.008,0.01,0.006,0.02,0.007,0.007,0.012,0.009,0.005,0.006,0.01,0.012,0.008,0.02,0.009,0.01,0.016,0.015,0.009,0.011,0.018,0.022,0.01,0.012,0.019,0.02,0.01,0.015,0.02,0.018,0.01,0.011,0.017,0.02,0.01,0.014,0.02,0.012,0.009,0.02,0.011,0.013,0.018,0.016,0.01,0.011,0.017,0.015,0.01,0.02,0.011,0.012,0.018,0.022,0.011,0.014,0.02,0.015,0.01,0.012,0.018,0.017,0.011,0.04,0.013,0.015,0.021,0.012,0.011,0.025,0.012,0.014,0.02,0.018,0.011,0.012,0.019,0.015,0.012];
const int_oml_35 = [0.002,0.01,0.006,0.004,0.005,0.003,0.006,0.004,0.005,0.007,0.004,0.006,0.005,0.008,0.005,0.006,0.007,0.005,0.008,0.006,0.009,0.007,0.01,0.006,0.008,0.007,0.009,0.006,0.01,0.008,0.011,0.007,0.009,0.016,0.008,0.012,0.007,0.009,0.006,0.008];
const int_orl_41 = [0.005,0.009,0.014,0.006,0.008,0.012,0.006,0.011,0.01,0.016,0.02,0.009,0.009,0.018,0.03,0.011,0.012,0.022,0.018,0.01,0.015,0.026,0.044,0.013,0.012,0.024,0.03,0.012,0.016,0.025,0.025,0.012,0.013,0.028,0.04,0.013,0.015,0.022,0.02,0.012,0.03,0.014,0.014,0.022,0.018,0.012,0.025,0.013,0.012,0.022,0.02,0.012,0.015,0.024,0.018,0.012,0.013,0.022,0.032,0.013,0.015,0.022,0.024,0.012,0.012,0.02,0.02,0.011,0.016,0.024,0.028,0.012,0.013,0.021,0.018,0.012,0.02,0.013,0.014,0.018];
const int_oml_41 = [0.002,0.015,0.006,0.004,0.005,0.003,0.006,0.004,0.005,0.003,0.006,0.004,0.005,0.006,0.004,0.005,0.007,0.005,0.006,0.004,0.007,0.005,0.008,0.006,0.007,0.005,0.009,0.007,0.008,0.006,0.01,0.012,0.009,0.015,0.011,0.02,0.013,0.022,0.01,0.008];
const int_orl_42 = [0.005,0.008,0.013,0.005,0.006,0.01,0.008,0.005,0.005,0.01,0.009,0.006,0.007,0.012,0.012,0.007,0.018,0.009,0.01,0.016,0.022,0.01,0.012,0.018,0.015,0.011,0.04,0.012,0.013,0.02,0.03,0.012,0.012,0.02,0.018,0.011,0.022,0.012,0.014,0.02,0.016,0.011,0.026,0.012,0.013,0.021,0.028,0.012,0.015,0.02,0.017,0.011,0.02,0.012,0.013,0.019,0.016,0.011,0.015,0.02,0.012,0.018,0.017,0.011,0.014,0.02,0.022,0.012,0.013,0.019,0.016,0.011,0.015,0.02,0.02,0.012,0.014,0.019,0.017,0.012];
const int_oml_42 = [0.002,0.006,0.004,0.005,0.003,0.006,0.004,0.005,0.003,0.006,0.004,0.005,0.003,0.004,0.006,0.003,0.005,0.004,0.006,0.003,0.005,0.004,0.006,0.005,0.004,0.007,0.005,0.004,0.006,0.005,0.004,0.008,0.006,0.01,0.007,0.012,0.006,0.008,0.005,0.007];
const int_orl_43 = [0.005,0.012,0.02,0.007,0.006,0.011,0.01,0.006,0.008,0.013,0.015,0.008,0.009,0.016,0.012,0.008,0.02,0.011,0.01,0.018,0.025,0.011,0.012,0.019,0.03,0.011,0.011,0.018,0.016,0.01,0.01,0.017,0.02,0.01,0.012,0.019,0.022,0.01,0.011,0.018,0.015,0.01,0.022,0.012,0.01,0.017,0.016,0.01,0.012,0.019,0.018,0.01,0.011,0.018,0.014,0.01,0.019,0.011,0.012,0.018,0.016,0.01,0.011,0.018,0.015,0.01,0.013,0.02,0.02,0.011,0.012,0.018,0.017,0.011,0.014,0.02,0.02,0.012,0.013,0.021];
const int_oml_43 = [0.005,0.038,0.008,0.004,0.005,0.003,0.01,0.004,0.006,0.003,0.005,0.004,0.006,0.003,0.005,0.004,0.006,0.003,0.005,0.004,0.006,0.005,0.004,0.006,0.005,0.007,0.004,0.006,0.005,0.008,0.006,0.007,0.005,0.008,0.006,0.009,0.007,0.022,0.008,0.006];
const int_orl_44 = [0.004,0.008,0.02,0.006,0.005,0.003,0.003,0.005,0.006,0.004,0.004,0.006,0.007,0.012,0.019,0.006,0.006,0.011,0.01,0.006,0.008,0.015,0.012,0.009,0.047,0.012,0.01,0.02,0.03,0.011,0.014,0.022,0.012,0.01,0.018,0.022,0.011,0.01,0.015,0.02,0.024,0.012,0.013,0.021,0.016,0.011,0.031,0.013,0.012,0.02,0.018,0.011,0.014,0.022,0.029,0.012,0.013,0.021,0.016,0.011,0.012,0.018,0.02,0.011,0.014,0.022,0.017,0.012,0.03,0.013,0.013,0.02,0.018,0.011,0.012,0.019,0.016,0.011,0.014,0.02];
const int_oml_44 = [0.002,0.012,0.005,0.003,0.004,0.003,0.005,0.004,0.003,0.005,0.004,0.006,0.003,0.005,0.004,0.006,0.005,0.004,0.006,0.005,0.007,0.005,0.008,0.006,0.01,0.008,0.012,0.009,0.014,0.01,0.015,0.011,0.013,0.009,0.012,0.01,0.015,0.009,0.011,0.008];
const int_orl_45 = [0.008,0.006,0.015,0.008,0.005,0.012,0.021,0.008,0.009,0.014,0.012,0.007,0.008,0.014,0.018,0.009,0.011,0.02,0.029,0.011,0.013,0.02,0.015,0.01,0.01,0.018,0.04,0.012,0.012,0.02,0.028,0.012,0.014,0.021,0.016,0.011,0.022,0.012,0.011,0.018,0.015,0.011,0.013,0.02,0.018,0.011,0.012,0.019,0.016,0.011,0.02,0.012,0.011,0.018,0.015,0.011,0.022,0.012,0.013,0.02,0.016,0.011,0.012,0.019,0.02,0.012,0.014,0.021,0.018,0.012,0.011,0.017,0.015,0.011,0.012,0.02,0.016,0.012,0.042,0.02];
const int_oml_45 = [0.003,0.026,0.008,0.026,0.006,0.004,0.008,0.005,0.007,0.006,0.009,0.005,0.008,0.006,0.01,0.007,0.009,0.008,0.02,0.008,0.012,0.007,0.02,0.009,0.011,0.018,0.008,0.012,0.009,0.011,0.007,0.01,0.008,0.012,0.009,0.011,0.008,0.01,0.012,0.009];
const int_orl_51 = [0.018,0.012,0.025,0.01,0.008,0.014,0.012,0.007,0.006,0.011,0.01,0.006,0.008,0.013,0.012,0.007,0.01,0.016,0.015,0.01,0.037,0.012,0.012,0.022,0.036,0.012,0.014,0.024,0.028,0.011,0.011,0.02,0.016,0.011,0.054,0.014,0.013,0.022,0.03,0.012,0.015,0.024,0.012,0.011,0.018,0.024,0.036,0.013,0.014,0.022,0.03,0.013,0.012,0.024,0.02,0.012,0.015,0.025,0.032,0.014,0.013,0.022,0.02,0.012,0.016,0.026,0.038,0.014,0.014,0.022,0.018,0.012,0.012,0.024,0.015,0.012,0.04,0.014,0.013,0.02];
const int_oml_51 = [0.004,0.02,0.03,0.008,0.005,0.004,0.006,0.003,0.005,0.004,0.006,0.005,0.003,0.006,0.004,0.007,0.005,0.006,0.004,0.008,0.006,0.01,0.024,0.008,0.012,0.009,0.014,0.01,0.012,0.008,0.015,0.011,0.013,0.009,0.012,0.01,0.014,0.022,0.011,0.009];
const int_orl_52 = [0.008,0.005,0.019,0.008,0.006,0.012,0.01,0.006,0.007,0.012,0.018,0.008,0.009,0.015,0.02,0.009,0.011,0.018,0.022,0.01,0.01,0.017,0.015,0.01,0.034,0.012,0.012,0.019,0.02,0.01,0.011,0.018,0.015,0.01,0.013,0.02,0.022,0.011,0.011,0.018,0.016,0.01,0.02,0.012,0.012,0.02,0.025,0.012,0.013,0.02,0.016,0.011,0.022,0.012,0.011,0.018,0.015,0.01,0.012,0.019,0.024,0.012,0.013,0.02,0.016,0.011,0.012,0.02,0.025,0.012,0.014,0.02,0.02,0.012,0.013,0.019,0.018,0.011,0.012,0.017];
const int_oml_52 = [0.002,0.01,0.006,0.004,0.005,0.003,0.006,0.004,0.007,0.005,0.003,0.006,0.004,0.005,0.003,0.006,0.004,0.005,0.003,0.004,0.006,0.003,0.005,0.004,0.003,0.005,0.004,0.003,0.005,0.003,0.004,0.003,0.005,0.003,0.004,0.002,0.003,0.004,0.003,0.003];
const int_orl_53 = [0.006,0.01,0.012,0.006,0.008,0.014,0.02,0.008,0.007,0.012,0.01,0.006,0.009,0.014,0.012,0.007,0.022,0.01,0.01,0.017,0.014,0.009,0.03,0.012,0.011,0.018,0.016,0.01,0.012,0.019,0.018,0.01,0.01,0.017,0.015,0.01,0.012,0.02,0.02,0.011,0.011,0.018,0.016,0.011,0.013,0.02,0.018,0.011,0.012,0.02,0.015,0.011,0.035,0.013,0.013,0.022,0.03,0.012,0.012,0.02,0.02,0.012,0.028,0.013,0.014,0.022,0.025,0.012,0.012,0.021,0.03,0.013,0.015,0.022,0.018,0.012,0.024,0.013,0.012,0.018];
const int_oml_53 = [0.003,0.02,0.01,0.005,0.004,0.006,0.005,0.008,0.004,0.006,0.005,0.007,0.004,0.006,0.008,0.005,0.007,0.004,0.006,0.005,0.008,0.006,0.005,0.007,0.004,0.006,0.009,0.005,0.007,0.006,0.012,0.007,0.009,0.006,0.01,0.007,0.015,0.008,0.018,0.009];
const int_orl_54 = [0.005,0.01,0.036,0.008,0.008,0.005,0.012,0.007,0.006,0.012,0.01,0.006,0.025,0.01,0.009,0.018,0.015,0.008,0.011,0.02,0.028,0.01,0.012,0.02,0.016,0.01,0.026,0.012,0.011,0.02,0.018,0.01,0.028,0.012,0.013,0.022,0.03,0.011,0.012,0.02,0.016,0.01,0.02,0.011,0.01,0.017,0.014,0.01,0.012,0.018,0.016,0.011,0.011,0.018,0.018,0.012,0.013,0.02,0.02,0.012,0.015,0.022,0.03,0.013,0.014,0.02,0.018,0.012,0.013,0.022,0.02,0.013,0.015,0.022,0.028,0.013,0.014,0.022,0.025,0.014];
const int_oml_54 = [0.003,0.01,0.008,0.036,0.012,0.008,0.028,0.006,0.015,0.028,0.008,0.012,0.006,0.01,0.009,0.014,0.007,0.011,0.008,0.012,0.006,0.009,0.007,0.01,0.005,0.003,0.002,0.003,0.002,0.003,0.002,0.002,0.003,0.002,0.003,0.002,0.003,0.002,0.003,0.002];
const int_orl_55 = [0.005,0.008,0.012,0.005,0.006,0.01,0.009,0.005,0.007,0.012,0.011,0.006,0.008,0.014,0.02,0.008,0.01,0.017,0.022,0.009,0.012,0.019,0.028,0.01,0.011,0.018,0.015,0.01,0.012,0.019,0.02,0.01,0.01,0.018,0.014,0.01,0.012,0.02,0.016,0.011,0.025,0.012,0.011,0.02,0.015,0.011,0.013,0.022,0.012,0.013,0.035,0.014,0.014,0.024,0.035,0.013,0.013,0.022,0.018,0.012,0.03,0.014,0.015,0.024,0.035,0.014,0.014,0.025,0.018,0.013,0.03,0.015,0.015,0.024,0.02,0.013,0.013,0.02,0.024,0.016];
const int_oml_55 = [0.002,0.017,0.006,0.004,0.005,0.003,0.006,0.004,0.005,0.007,0.004,0.006,0.005,0.004,0.006,0.003,0.005,0.004,0.006,0.005,0.004,0.006,0.005,0.007,0.004,0.006,0.005,0.007,0.006,0.008,0.005,0.007,0.006,0.009,0.007,0.008,0.01,0.012,0.009,0.014];

const RET_GRID = [
  [[ret_orl_11,ret_oml_11],[ret_orl_12,ret_oml_12],[ret_orl_13,ret_oml_13],[ret_orl_14,ret_oml_14],[ret_orl_15,ret_oml_15]],
  [[ret_orl_21,ret_oml_21],[ret_orl_22,ret_oml_22],[ret_orl_23,ret_oml_23],[ret_orl_24,ret_oml_24],[ret_orl_25,ret_oml_25]],
  [[ret_orl_31,ret_oml_31],[ret_orl_32,ret_oml_32],[ret_orl_33,ret_oml_33],[ret_orl_34,ret_oml_34],[ret_orl_35,ret_oml_35]],
  [[ret_orl_41,ret_oml_41],[ret_orl_42,ret_oml_42],[ret_orl_43,ret_oml_43],[ret_orl_44,ret_oml_44],[ret_orl_45,ret_oml_45]],
  [[ret_orl_51,ret_oml_51],[ret_orl_52,ret_oml_52],[ret_orl_53,ret_oml_53],[ret_orl_54,ret_oml_54],[ret_orl_55,ret_oml_55]]
];
const INT_GRID = [
  [[int_orl_11,int_oml_11],[int_orl_12,int_oml_12],[int_orl_13,int_oml_13],[int_orl_14,int_oml_14],[int_orl_15,int_oml_15]],
  [[int_orl_21,int_oml_21],[int_orl_22,int_oml_22],[int_orl_23,int_oml_23],[int_orl_24,int_oml_24],[int_orl_25,int_oml_25]],
  [[int_orl_31,int_oml_31],[int_orl_32,int_oml_32],[int_orl_33,int_oml_33],[int_orl_34,int_oml_34],[int_orl_35,int_oml_35]],
  [[int_orl_41,int_oml_41],[int_orl_42,int_oml_42],[int_orl_43,int_oml_43],[int_orl_44,int_oml_44],[int_orl_45,int_oml_45]],
  [[int_orl_51,int_oml_51],[int_orl_52,int_oml_52],[int_orl_53,int_oml_53],[int_orl_54,int_oml_54],[int_orl_55,int_oml_55]]
];

// layout (pixels)
const LEFT_COLS = [48,134,220,306,392];
const RIGHT_COLS = [573,659,745,831,917];
const ROWS = [6,97,188,279,370];
const PW = 73, PH = 78, PADL = 45, PADT = 5, PADR = 5, PADB = 25;

const ORL_COLOR = 'rgba(0,0,139,0.5)';
const OML_COLOR = 'rgba(255,0,0,0.5)';
const TICK_FONT = {family:'DejaVu Sans', size:7.3};

const framePlugin = {
  id:'frame',
  afterDatasetsDraw(chart){
    const a = chart.chartArea, ctx = chart.ctx;
    ctx.save();
    ctx.strokeStyle = '#000';
    ctx.lineWidth = 1;
    ctx.strokeRect(a.left, a.top, a.right - a.left, a.bottom - a.top);
    ctx.restore();
  }
};

function fmtRet(v){ return v < 0 ? '\u2212' + (-v) : String(v); }
function fmtInt(v){ return Number(v).toFixed(2); }

function panel(L, T, orl, oml, kind, showY, showX){
  const c = document.createElement('canvas');
  c.width = PW + PADL + PADR; c.height = PH + PADT + PADB;
  c.style.left = (L - PADL) + 'px'; c.style.top = (T - PADT) + 'px';
  document.body.appendChild(c);
  const isRet = kind === 'ret';
  const yTicks = isRet ? RET_TICKS : INT_TICKS;
  new Chart(c, {
    type:'line',
    data:{datasets:[
      {label:'API-ORL', data: ITER_ORL.map((x,i)=>({x:x, y:orl[i]})), borderColor:ORL_COLOR, borderWidth:1.3, pointRadius:0, tension:0, fill:false, order:2},
      {label:'API-OML', data: ITER_OML.map((x,i)=>({x:x, y:oml[i]})), borderColor:OML_COLOR, borderWidth:1.7, pointRadius:0, tension:0, fill:false, order:1}
    ]},
    options:{
      responsive:false, animation:false, devicePixelRatio:1, events:[],
      layout:{padding:{left:0, top:PADT, right:PADR, bottom:0}},
      plugins:{legend:{display:false}, tooltip:{enabled:false}},
      scales:{
        x:{
          type:'linear', min:-19, max:413,
          grid:{drawOnChartArea:false, drawTicks:true, tickLength:3, tickWidth:0.8, tickColor:'#000', color:'#000'},
          border:{display:false},
          ticks:{display:showX, font:TICK_FONT, color:'#111', padding:2, maxRotation:0, autoSkip:false, callback:(v)=>String(v)},
          afterBuildTicks:(s)=>{ s.ticks = X_TICKS.map(v=>({value:v})); },
          afterFit:(s)=>{ s.height = PADB; s.paddingLeft = 0; s.paddingRight = 0; }
        },
        y:{
          type:'linear', min: isRet ? -101.5 : -0.003, max: isRet ? -50.4 : 0.0573,
          grid:{drawOnChartArea:false, drawTicks:true, tickLength:3, tickWidth:0.8, tickColor:'#000', color:'#000'},
          border:{display:false},
          ticks:{display:showY, font:TICK_FONT, color:'#111', padding:2, autoSkip:false, callback: isRet ? fmtRet : fmtInt},
          afterBuildTicks:(s)=>{ s.ticks = yTicks.map(v=>({value:v})); },
          afterFit:(s)=>{ s.width = PADL; s.paddingTop = 0; s.paddingBottom = 0; }
        }
      }
    },
    plugins:[framePlugin]
  });
}

for (let r = 0; r < 5; r++) {
  for (let c = 0; c < 5; c++) {
    panel(LEFT_COLS[c], ROWS[r], RET_GRID[r][c][0], RET_GRID[r][c][1], 'ret', c === 0, r === 4);
    panel(RIGHT_COLS[c], ROWS[r], INT_GRID[r][c][0], INT_GRID[r][c][1], 'int', c === 0, r === 4);
  }
}
</script>
</body></html>
